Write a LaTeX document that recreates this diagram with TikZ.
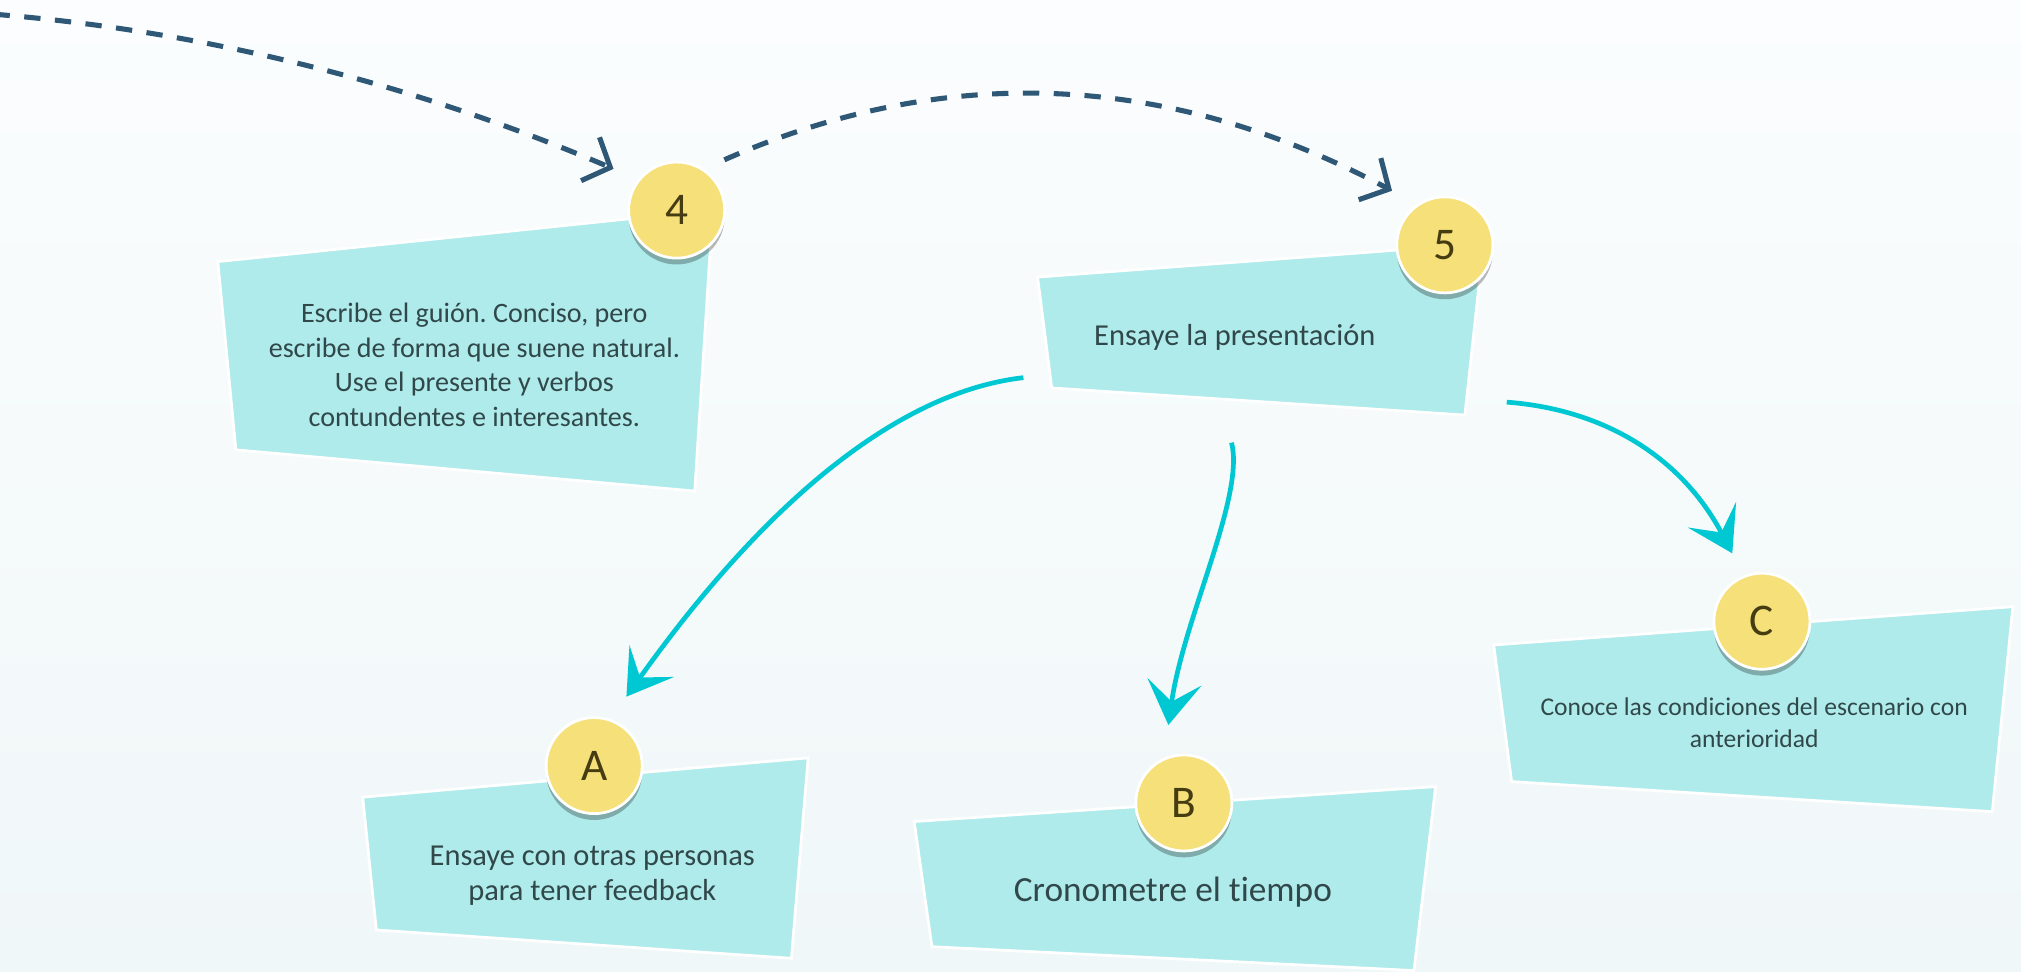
\documentclass[tikz,border=0pt]{standalone}
\usepackage{fontspec}
\setmainfont{Carlito}[Ligatures=NoCommon]
\usetikzlibrary{arrows.meta, calc, shadows}
\definecolor{cardcyan}{RGB}{176,235,235}
\definecolor{badgeyellow}{RGB}{246,224,122}
\definecolor{textslate}{RGB}{48,72,74}
\definecolor{badgeink}{RGB}{70,60,18}
\definecolor{dashblue}{RGB}{47,88,119}
\definecolor{flowcyan}{RGB}{0,200,210}
\definecolor{bgtop}{RGB}{251,253,254}
\definecolor{bgbottom}{RGB}{240,247,248}
\frenchspacing

\begin{document}
\begin{tikzpicture}[x=0.025cm, y=-0.025cm,
    card/.style={fill=cardcyan, draw=white, line width=1.5pt, line join=miter},
    cardtext/.style={text=textslate, align=center, inner sep=0pt},
    badge/.style={circle, fill=badgeyellow, draw=white, line width=1.5pt, minimum size=53pt, inner sep=0pt,
        text=badgeink, font=\fontsize{25}{30}\selectfont,
        drop shadow={shadow xshift=0pt, shadow yshift=-3.5pt, opacity=0.27, fill=black}},
    stepline/.style={dashblue, line width=2.8pt, dash pattern=on 9pt off 8pt,
        -{Straight Barb[length=12pt, width=26pt, line width=2.8pt, sharp]}},
    flow/.style={flowcyan, line width=2.6pt, -{Stealth[length=24pt, width=30pt, inset=11pt]}}]
    % background
    \fill[top color=bgtop, bottom color=bgbottom] (0,0) rectangle (1568,754);
    \useasboundingbox (0,0) rectangle (1568,754);

    % cards
    \draw[card] (169,203) -- (553,163) -- (539,381) -- (183,349) -- cycle;
    \draw[card] (805,215) -- (1151,189) -- (1136.5,322) -- (816,301) -- cycle;
    \draw[card] (281.4,618.5) -- (627,588) -- (614,743.5) -- (292,721.5) -- cycle;
    \draw[card] (709.3,637.4) -- (1113.8,610.3) -- (1097,753) -- (723,734.5) -- cycle;
    \draw[card] (1158.9,500.4) -- (1561.7,470.7) -- (1545.7,629.7) -- (1172.8,606.4) -- cycle;

    % card texts
    \node[cardtext, font=\fontsize{15.5}{19}\selectfont] (t4) at (368,283)
        {Escribe el guión. Conciso, pero\\escribe de forma que suene natural.\\Use el presente y verbos\\contundentes e interesantes.};
    \node[cardtext, font=\fontsize{16.8}{20}\selectfont] (t5) at (958,262) {Ensaye la presentación};
    \node[cardtext, font=\fontsize{16.8}{19.3}\selectfont] (tA) at (459.5,679.5)
        {Ensaye con otras personas\\para tener feedback};
    \node[cardtext, font=\fontsize{19.5}{23}\selectfont] (tB) at (910,692) {Cronometre el tiempo};
    \node[cardtext, font=\fontsize{14.1}{17.5}\selectfont] (tC) at (1361,560.5)
        {Conoce las condiciones del escenario con\\anterioridad};

    % badges
    \node[badge] (n4) at (525,163) {4};
    \node[badge] (n5) at (1121,190) {5};
    \node[badge] (nA) at (461,594) {A};
    \node[badge] (nB) at (918.5,623) {B};
    \node[badge] (nC) at (1367,482) {C};

    % steps
    \coordinate (n3) at (-5,11);
    \draw[stepline] (n3) .. controls +(163,13) and +(-158,-67) .. ($(n4)+(-49,-32)$);
    \draw[stepline] ($(n4)+(37,-39)$) .. controls +(172,-76) and +(-173,-92) .. ($(n5)+(-41,-42)$);

    % from rehearsal to tips
    \draw[flow] ($(t5)+(-164,31)$) .. controls +(-96,11) and +(109,-153) .. ($(nA)+(25,-53.5)$);
    \draw[flow] ($(t5)+(-2.5,81.4)$) .. controls +(10.5,41.6) and +(11.6,-82.5) .. ($(nB)+(-12,-60.5)$);
    \draw[flow] ($(t5)+(211,50)$) .. controls +(79,6) and +(-38,-72) .. ($(nC)+(-23,-52.7)$);
\end{tikzpicture}
\end{document}
